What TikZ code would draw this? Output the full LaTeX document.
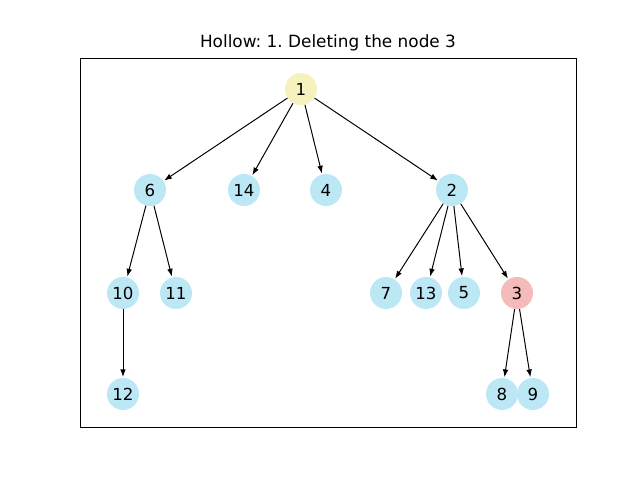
\documentclass[tikz,border=0pt]{standalone}
\usepackage{fontspec}
\setmainfont{DejaVu Sans}
\usetikzlibrary{arrows.meta}
\frenchspacing
\definecolor{leaf}{RGB}{188,232,246}
\definecolor{root}{RGB}{246,242,190}
\definecolor{gone}{RGB}{245,186,186}
\tikzset{
  vtx/.style={circle, fill=leaf, minimum size=0.8cm, inner sep=0pt, font=\fontsize{11.8}{14}\selectfont},
  tree/.style={-{Latex[length=5.5pt,width=4pt]}, line width=0.7pt, shorten >=0.5pt}
}
\begin{document}
\begin{tikzpicture}[x=0.025cm, y=-0.025cm]
\useasboundingbox (0,0) rectangle (640,480);
% frame and title
\draw[line width=0.6pt] (80,58) rectangle (576,427);
\node[font=\fontsize{12}{14}\selectfont] (title) at (328,43) {Hollow: 1. Deleting the node 3};
% nodes
\node [vtx, fill=root] (1) at (301,89) {1};
\node [vtx] (6) at (150,190) {6};
\node [vtx] (14) at (244,190) {14};
\node [vtx] (4) at (326,190) {4};
\node [vtx] (2) at (452,190) {2};
\node [vtx] (10) at (123,293) {10};
\node [vtx] (11) at (176,293) {11};
\node [vtx] (7) at (386,293) {7};
\node [vtx] (13) at (426,293) {13};
\node [vtx] (5) at (464,293) {5};
\node [vtx, fill=gone] (3) at (517,293) {3};
\node [vtx] (12) at (123,394) {12};
\node [vtx] (8) at (502,394) {8};
\node [vtx] (9) at (533,394) {9};
% arrows
\draw [tree]
	(1) edge (6)
	(1) edge (14)
	(1) edge (4)
	(1) edge (2)
	(6) edge (10)
	(6) edge (11)
	(10) edge (12)
	(2) edge (7)
	(2) edge (13)
	(2) edge (5)
	(2) edge (3)
	(3) edge (8)
	(3) edge (9);
\end{tikzpicture}
\end{document}
